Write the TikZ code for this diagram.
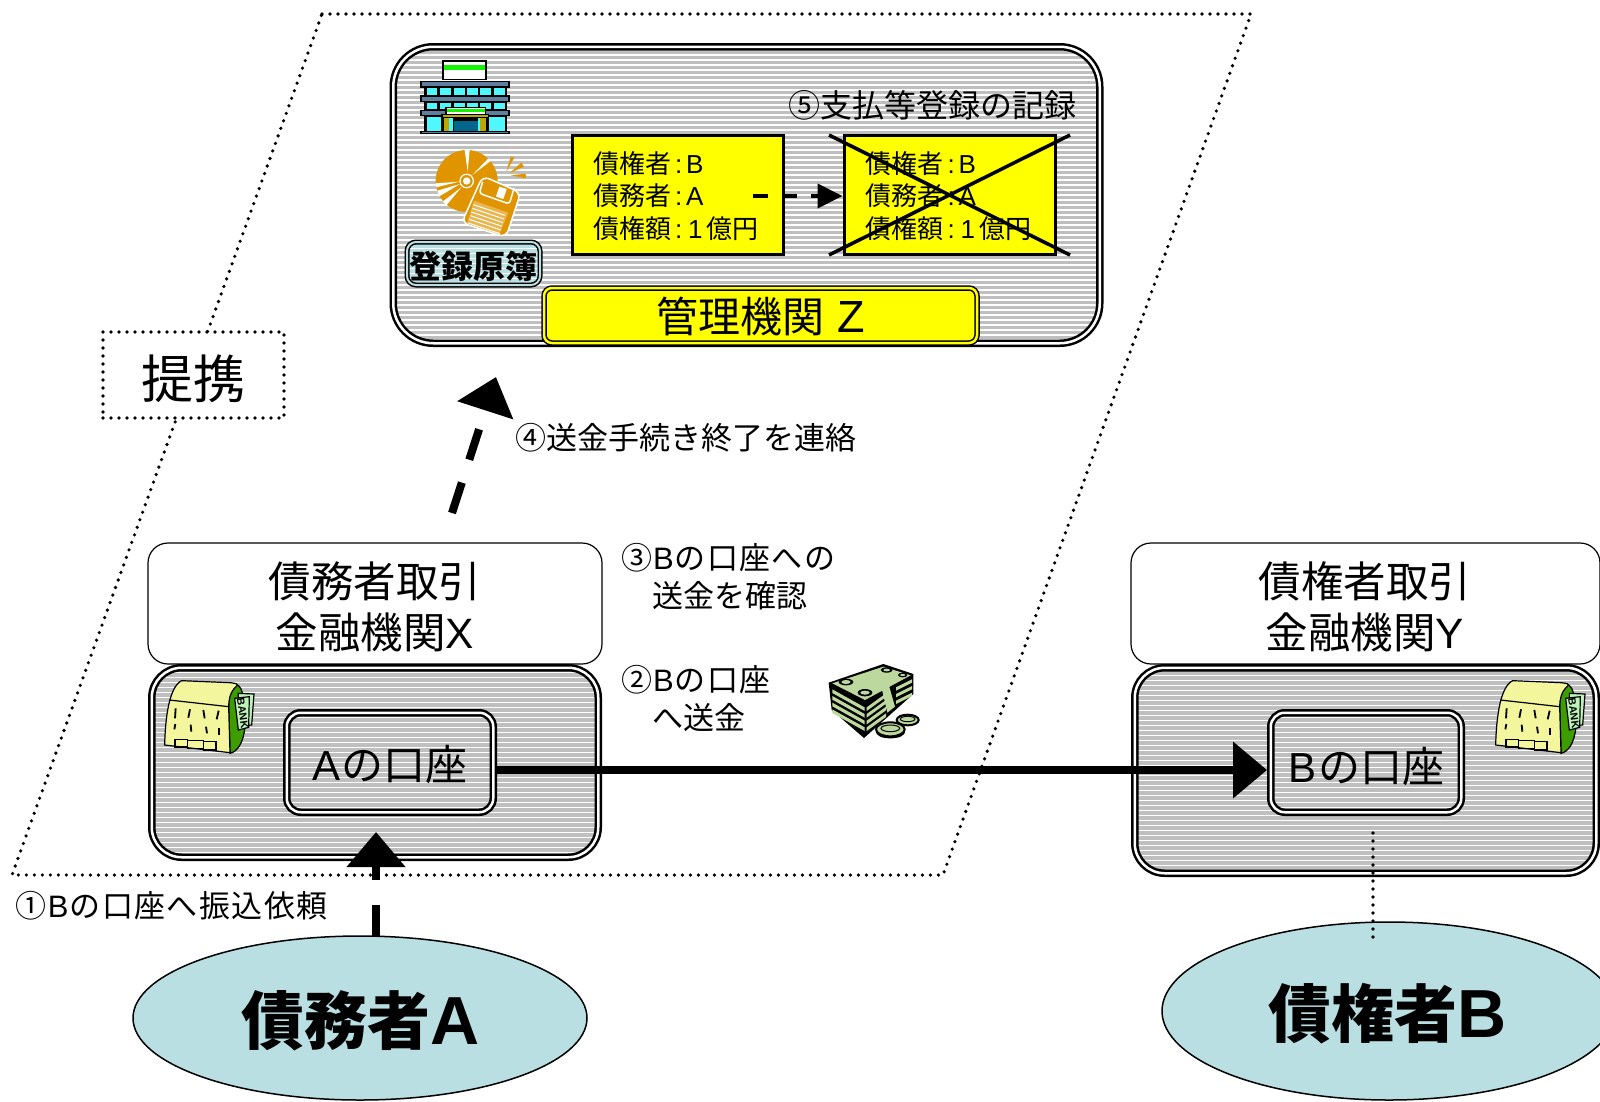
\documentclass[tikz,border=0pt]{standalone}
\usepackage{fontspec}
\usetikzlibrary{shapes.geometric,arrows.meta,calc}
\setmainfont{Liberation Sans}
\newfontfamily\cjk{Noto Sans CJK JP}
\newfontfamily\cjkw[LetterSpace=4.5]{Noto Sans CJK JP}
\newcommand{\J}[1]{{\cjk #1}}
\newcommand{\W}[1]{{\cjkw #1}}
\newcommand{\fs}[2]{\fontsize{#1}{#2}\selectfont}
\definecolor{stripegray}{HTML}{BFBFBF}
\definecolor{paleblue}{HTML}{B9DFE3}
\definecolor{discorange}{HTML}{E09500}
\definecolor{bankyellow}{HTML}{F3F69C}
\definecolor{bankgreen}{HTML}{3C9C00}
\definecolor{billgreen}{HTML}{BCD89E}
\definecolor{slate}{HTML}{5F7F9F}
\definecolor{wincyan}{HTML}{4FF7FF}
\definecolor{pureyellow}{HTML}{FFFF00}
\definecolor{puregreen}{HTML}{10F500}
\definecolor{paleolive}{HTML}{B8A800}
\definecolor{doorteal}{HTML}{00668C}
\definecolor{signgreen}{HTML}{BDF2B8}
\tikzset{
  stripes/.style={path picture={
    \foreach \d in {-215,-210,...,215}
      \draw[white,line width=1.4pt]
        ([yshift=\d pt]path picture bounding box.west) --
        ([yshift=\d pt]path picture bounding box.east);}},
  dblbox/.style={draw=black,line width=2.5pt,double=white,double distance=2.5pt,
    outer sep=3.75pt,inner sep=0pt,stripes},
  graybox/.style={dblbox,fill=stripegray},
  plainbox/.style={draw=black,line width=1.2pt,fill=white,rounded corners=20pt,inner sep=0pt,outer sep=0pt},
  ledgerbox/.style={draw=black,line width=3pt,fill=pureyellow,inner sep=0pt,outer sep=1.5pt,
    minimum width=211,minimum height=119},
  ledgertxt/.style={inner sep=0pt,outer sep=0pt,align=left,anchor=west,font=\fs{26}{32.5}},
  label/.style={inner sep=0pt,outer sep=0pt,align=left,font=\fs{31}{38}},
  title/.style={inner sep=0pt,outer sep=0pt,align=center,font=\fs{42.5}{51}},
  dots/.style={line width=3.6pt,line cap=round,dash pattern=on 0pt off 8pt},
  person/.style={draw=black,line width=1.5pt,fill=paleblue,ellipse,inner sep=0pt},
  persontxt/.style={inner sep=0pt,font=\bfseries\fs{63}{70}},
  bigarrow/.style={line width=8pt,-{Triangle[length=35pt,width=57pt]}},
}
\newcommand{\ledgertext}{\J{債権者}\hspace{4pt}:\hspace{4pt}B\\\J{債務者}\hspace{4pt}:\hspace{4pt}A\\\J{債権額}\hspace{4pt}:\hspace{6pt}1\hspace{4pt}\J{億円}}
\newcommand{\bankicon}[2]{%
\begin{scope}[shift={(#1,#2)},x=0.33333pt,y=-0.33333pt,line width=1.2pt,draw=black]
  \filldraw[fill=bankgreen] (318,102) .. controls (345,115) and (338,150) .. (345,230)
     .. controls (340,280) and (322,305) .. (300,310) -- (296,160) .. controls (298,130) and (305,110) .. (318,102) -- cycle;
  \filldraw[fill=bankyellow] (104,285) .. controls (106,200) and (118,110) .. (155,92)
     -- (300,98) .. controls (318,100) and (326,102) .. (320,108) .. controls (300,125) and (296,150) .. (296,170) -- (300,308) -- cycle;
  \draw (118,150) -- (296,170);
  \foreach \a/\b/\c/\e in {137/175/135/205,180/178/175/203,220/180/224/205,266/182/260/208,
     136/222/133/238,182/224/184/245,228/230/231/250,267/234/267/255}
     \draw[line width=1.8pt] (\a,\b) -- (\c,\e);
  \draw (135,268) rectangle (172,291);
  \draw (172,271) rectangle (220,296);
  \draw (220,275) rectangle (258,300);
  \filldraw[fill=signgreen] (325,130) -- (372,132) -- (365,225) -- (325,228) -- cycle;
  \filldraw[fill=signgreen] (314,145) -- (358,140) -- (356,232) -- (325,240) -- cycle;
  \node[inner sep=0pt,rotate=-82,font=\bfseries\fs{10.5}{10.5}] at (338,190) {BANK};
\end{scope}}
\begin{document}
\begin{tikzpicture}[x=1pt,y=-1pt]
\useasboundingbox (0,0) rectangle (1600,1101);
\fill[white] (0,0) rectangle (1600,1101);
% alliance parallelogram
\draw[dots] (322,14) -- (1251,14) -- (943,875) -- (12,875) -- cycle;
\node[draw=black,dots,fill=white,minimum width=181,minimum height=86,inner sep=0pt] (alliance) at (193.5,375) {};
\node[inner sep=0pt] (alliancetext) at (193,379) {\fs{52}{52}\J{提携}};
% management institution
\node[graybox,minimum width=706.5,minimum height=296.5,rounded corners=40pt] (zbox) at (746.5,195) {};
\node[ledgerbox] (rec1) at (677.5,195) {};
\node[ledgertxt] (rec1text) at (593,196) {\ledgertext};
\node[ledgerbox] (rec2) at (949.5,195) {};
\node[ledgertxt] (rec2text) at (865.5,196) {\ledgertext};
\draw[line width=3.5pt] (829,135) -- (1070,255) (829,255) -- (1070,135);
\coordinate (recfrom) at (753,196);
\draw[line width=4pt,dash pattern=on 15pt off 14pt,-{Triangle[length=25pt,width=24pt]}] (recfrom) -- ([yshift=-1pt]rec2.west);
\node[label,font=\fs{32}{38},anchor=west] (step5) at (788,105) {\J{⑤支払等登録の記録}};
\node[draw=black,line width=1.5pt,double=paleblue,double distance=2pt,fill=paleblue,stripes,
  rounded corners=9pt,minimum width=133,minimum height=43,inner sep=0pt] (ledger) at (473.5,263.5) {};
\node[inner sep=0pt,font=\bfseries\fs{32}{32}] (ledgerlabel) at (473.5,266.8) {\J{登録原簿}};
\node[draw=black,line width=1.5pt,double=pureyellow,double distance=2.5pt,fill=pureyellow,
  rounded corners=8pt,minimum width=433,minimum height=55,inner sep=0pt] (zname) at (760.5,315.5) {};
\node[inner sep=0pt,font=\fs{42}{42}] (znametext) at (760.5,316.5) {\J{管理機関}\hspace{13pt}{\fs{45}{45}Z}};
% building icon
\begin{scope}[shift={(380,30)},x=0.33333pt,y=-0.33333pt,draw=black]
  \fill[black] (186,90) rectangle (322,150);
  \fill[white] (192,95) rectangle (316,148);
  \fill[puregreen] (192,104) rectangle (316,120);
  \fill[black] (132,160) rectangle (380,306);
  \foreach \a in {140,180,222,262,300,342} \fill[wincyan] (\a,174) rectangle +(32,22);
  \foreach \a in {140,180,222,262,300,342} \fill[wincyan] (\a,218) rectangle +(32,20);
  \foreach \a in {140,342} \fill[wincyan] (\a,262) rectangle +(32,40);
  \fill[wincyan] (172,262) rectangle (186,302);
  \fill[wincyan] (322,262) rectangle (342,302);
  \foreach \b in {153,196,239} {\fill[black] (120,\b) rectangle (391,\b+20); \fill[slate] (125,\b+4) rectangle (385,\b+16);}
  \fill[black] (120,302) rectangle (391,312);
  \fill[slate] (125,305) rectangle (385,309);
  \fill[black] (196,231) rectangle (318,254);
  \fill[white] (200,235) rectangle (314,251);
  \fill[puregreen] (200,238) rectangle (314,246);
  \fill[black] (184,252) rectangle (328,302);
  \fill[paleolive] (188,254) rectangle (324,262);
  \fill[paleolive] (191,264) rectangle (207,302);
  \fill[paleolive] (300,264) rectangle (318,302);
  \fill[wincyan] (208,264) rectangle (220,302);
  \fill[wincyan] (295,264) rectangle (299,302);
  \fill[doorteal] (221,272) rectangle (294,302);
\end{scope}
% disc and floppy icon
\begin{scope}[shift={(380,30)},x=0.33333pt,y=-0.33333pt]
  \fill[discorange] (260,453) circle [radius=93];
  \fill[white] (254,360) -- (269,360) -- (263,425) -- cycle;
  \fill[white] (325,385) -- (333,392) -- (277,435) -- cycle;
  \fill[white] (167,460) -- (238,455) -- (168,472) -- cycle;
  \fill[white] (172,482) -- (240,462) -- (176,500) -- cycle;
  \fill[white] (188,515) -- (244,472) -- (200,525) -- cycle;
  \fill[white] (260,453) circle [radius=22];
  \fill[discorange] (260,453) circle [radius=18];
  \fill[white] (260,453) circle [radius=11];
  \filldraw[fill=discorange,draw=white,line width=1.5pt,rounded corners=7pt]
    (308,438) -- (422,488) -- (378,622) -- (245,578) -- cycle;
  \draw[white,line width=1.5pt,rounded corners=3pt] (308,455) -- (298,490) -- (388,522) -- (402,475);
  \fill[white] (358,470) -- (380,477) -- (370,507) -- (348,500) -- cycle;
  \fill[discorange!70!white] (282,512) -- (385,548) -- (358,612) -- (262,578) -- cycle;
  \foreach \k in {0,1,2,3,4,5}
    \draw[white,line width=1pt] (280-3*\k,524+11*\k) -- (375-3*\k,556+11*\k);
  \fill[discorange] (392,380) -- (403,383) -- (379,425) -- cycle;
  \fill[discorange] (424,398) -- (432,410) -- (388,430) -- cycle;
  \fill[discorange] (437,431) -- (438,445) -- (392,436) -- cycle;
\end{scope}
% debtor bank
\node[plainbox,minimum width=454,minimum height=121] (xhead) at (375,603.5) {};
\node[title] (xtext) at (375,607) {\J{債務者取引}\\\J{金融機関}X};
\node[graybox,minimum width=446.5,minimum height=189.5,rounded corners=30pt] (xbox) at (375,762.5) {};
\bankicon{130}{650}
\node[dblbox,minimum width=206.5,minimum height=99.5,rounded corners=14pt,fill=stripegray] (acctA) at (390,762.5) {};
\node[inner sep=0pt,font=\fs{42}{42}] (acctAtext) at (390,764.5) {A\hspace{1pt}\J{の口座}};
% creditor bank
\node[plainbox,minimum width=469,minimum height=121] (yhead) at (1365.5,603.5) {};
\node[title] (ytext) at (1365,607) {\J{債権者取引}\\\J{金融機関}Y};
\node[graybox,minimum width=461.5,minimum height=205.5,rounded corners=30pt] (ybox) at (1365.5,770.5) {};
\bankicon{1461}{650}
\node[dblbox,minimum width=190.5,minimum height=99.5,rounded corners=14pt,fill=stripegray] (acctB) at (1366,762.5) {};
\node[inner sep=0pt,font=\fs{42}{42}] (acctBtext) at (1366,766.5) {B\hspace{2pt}\J{の口座}};
% persons
\node[person,minimum width=454,minimum height=164] (debtor) at (360,1018) {};
\node[persontxt] (debtortext) at (361,1021) {\J{債務者}{\fs{68}{70}A}};
\node[person,minimum width=454,minimum height=178] (creditor) at (1389,1011) {};
\node[persontxt] (creditortext) at (1388,1014) {\J{債権者}{\fs{68}{70}B}};
% connectors
\draw[line width=7.5pt,-{Triangle[length=34pt,width=55pt]}]
  ([yshift=-7.5pt]acctA.east) -- ([yshift=-7.5pt]acctB.west);
\coordinate (reqfrom) at (376,937);
\coordinate (reqto) at (376,832);
\draw[bigarrow,dash pattern=on 32pt off 25pt] (reqfrom) -- (reqto);
\coordinate (donefrom) at (452,513);
\coordinate (doneto) at (496,377);
\draw[bigarrow,dash pattern=on 32pt off 24pt] (donefrom) -- (doneto);
\coordinate (tieB) at (1373,833);
\coordinate (tieC) at (1373,937);
\draw[dots] (tieB) -- (tieC);
% labels
\node[label,anchor=west] (step4) at (515,438) {\J{④送金手続き終了を連絡}};
\node[label,anchor=north west] (step3) at (621,543) {\J{③}\hspace{1pt}B\hspace{1pt}\W{の口座への}\\\hspace{31pt}\J{送金を確認}};
\node[label,anchor=north west] (step2) at (621,665) {\J{②}\hspace{1pt}B\hspace{1pt}\W{の口座}\\\hspace{31pt}\J{へ送金}};
\node[label,anchor=west] (step1) at (16,906) {\J{①}\hspace{1pt}B\hspace{1pt}\W{の口座へ振込依頼}};
% money icon
\begin{scope}[shift={(800,650)},x=0.33333pt,y=-0.33333pt]
  \fill[black] (86,98) -- (250,42) -- (340,72) -- (340,132) -- (192,264) -- (95,180) -- cycle;
  \fill[billgreen] (97,100) -- (250,50) -- (332,76) -- (195,150) -- cycle;
  \fill[black] (138,96) ellipse [x radius=22,y radius=10];
  \fill[billgreen] (138,96) ellipse [x radius=14,y radius=6];
  \fill[black] (195,128) ellipse [x radius=22,y radius=11];
  \fill[billgreen] (195,128) ellipse [x radius=14,y radius=6];
  \fill[black] (260,60) ellipse [x radius=18,y radius=8];
  \fill[billgreen] (260,60) ellipse [x radius=10,y radius=4];
  \fill[black] (308,75) ellipse [x radius=14,y radius=7];
  \fill[billgreen] (308,75) ellipse [x radius=8,y radius=3];
  \foreach \k in {0,1,2,3}
    \fill[billgreen] (97,118+\k*20) -- (194,172+\k*20) -- (194,183+\k*20) -- (97,129+\k*20) -- cycle;
  \foreach \k in {0,1,2,3}
    \fill[billgreen] (200,172+\k*20) -- (258,130+\k*20) -- (258,141+\k*20) -- (200,183+\k*20) -- cycle;
  \foreach \k in {0,1,2}
    \fill[billgreen] (288,112+\k*20) -- (336,88+\k*20) -- (336,98+\k*20) -- (288,122+\k*20) -- cycle;
  \fill[billgreen] (170,88) -- (205,72) -- (265,100) -- (285,170) -- (262,188) -- (245,115) -- cycle;
  \filldraw[fill=billgreen,draw=black,line width=2pt] (323,210) ellipse [x radius=33,y radius=16];
  \draw[black,line width=1pt] (323,207) ellipse [x radius=22,y radius=8];
  \fill[black] (227,242) -- (316,242) .. controls (316,258) and (295,265) .. (271,265) .. controls (247,265) and (227,258) .. (227,242) -- cycle;
  \filldraw[fill=billgreen,draw=black,line width=2pt] (271,238) ellipse [x radius=43,y radius=21];
  \draw[black,line width=1pt] (271,235) ellipse [x radius=28,y radius=10];
\end{scope}
\end{tikzpicture}
\end{document}
